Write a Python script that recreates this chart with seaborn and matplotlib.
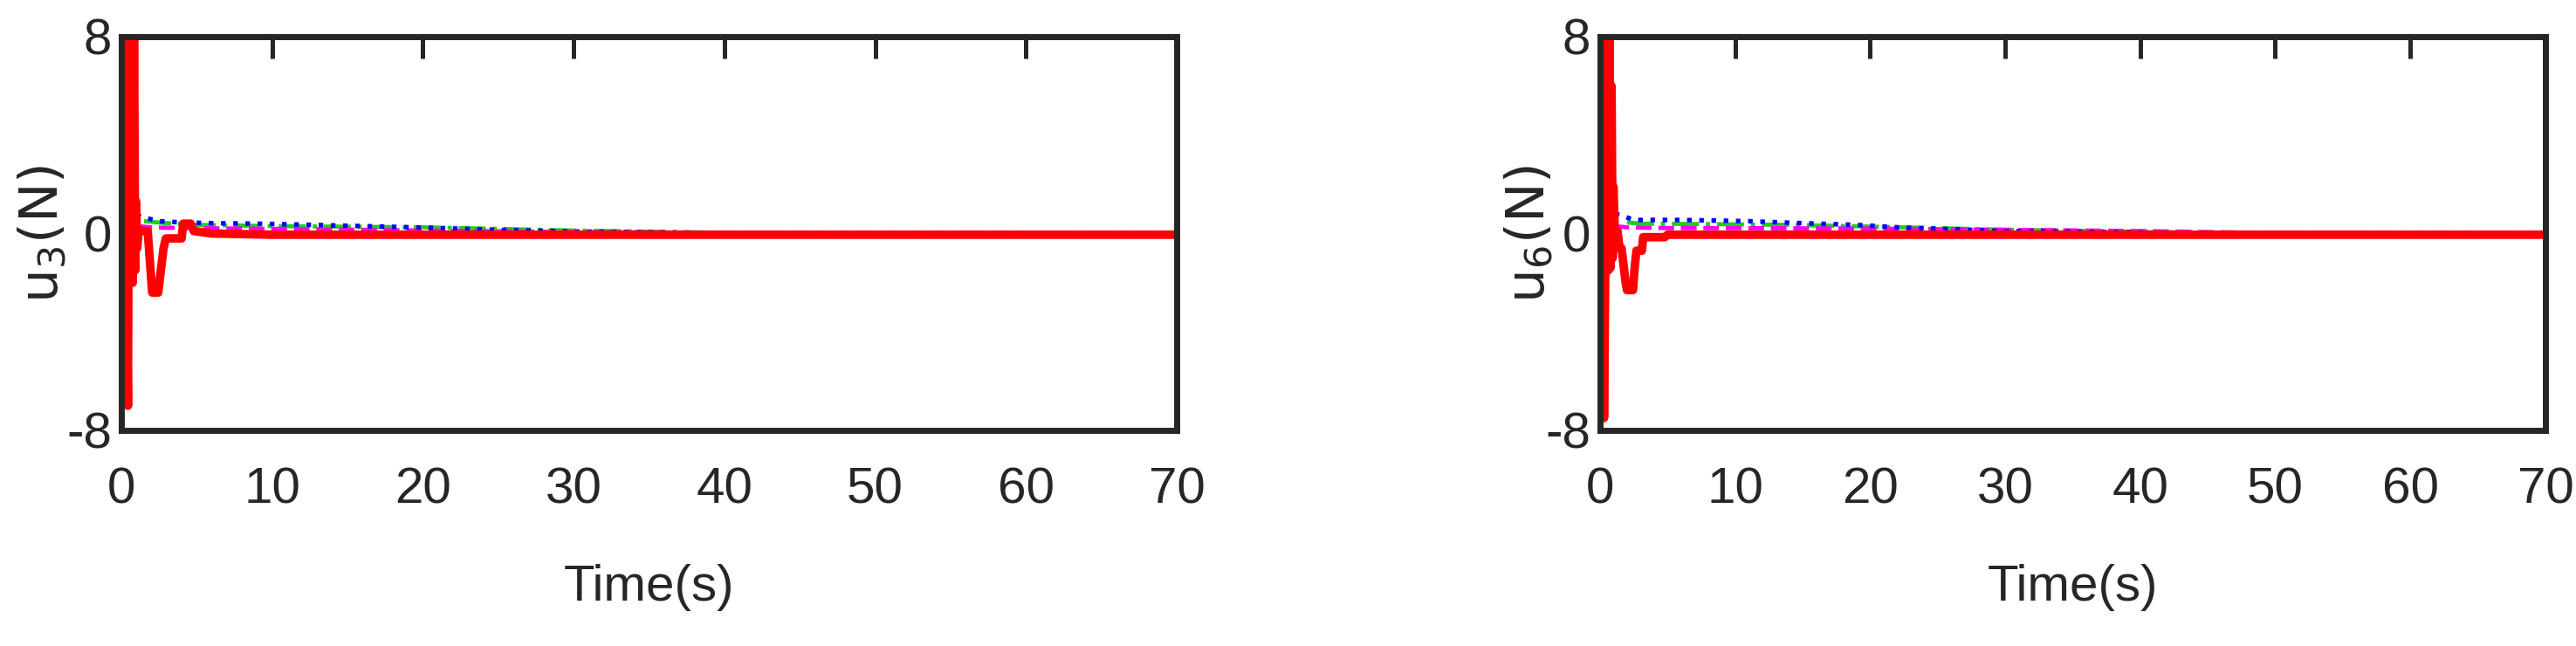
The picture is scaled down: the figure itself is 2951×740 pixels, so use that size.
import matplotlib
matplotlib.use("Agg")
import matplotlib.pyplot as plt
import seaborn as sns

# control inputs u3 / u6 (N) against time (s)
t_red_u3 = [0.00, 0.04, 0.12, 0.20, 0.28, 0.36, 0.44, 0.52, 0.60, 0.68, 0.76, 0.84, 0.92, 0.98,
            1.05, 1.15, 1.75, 1.95, 2.05, 2.45, 2.60, 2.80, 2.95, 4.00, 4.10, 4.60, 4.80, 6.0, 10.0, 30.0, 70.0]
red_u3 = [-1.5, 9.0, 9.0, -1.8, 9.0, -2.0, -7.0, 9.0, -1.5, 9.0, -2.0, 8.5, -1.5, 1.3,
          -0.6, 0.1, 0.1, -1.6, -2.4, -2.4, -1.6, -0.6, -0.2, -0.2, 0.4, 0.4, 0.1, 0.0, -0.05, -0.05, -0.05]

t_blue_u3 = [1.0, 1.5, 2.5, 4.0, 6.0, 9.0, 12.0, 16.0, 20.0, 25.0, 30.0, 40.0, 70.0]
blue_u3 = [0.75, 0.65, 0.5, 0.45, 0.42, 0.4, 0.36, 0.3, 0.24, 0.15, 0.08, 0.02, 0.0]

t_mag_u3 = [1.0, 2.0, 4.0, 8.0, 12.0, 20.0, 30.0, 50.0, 70.0]
mag_u3 = [0.3, 0.25, 0.22, 0.2, 0.18, 0.12, 0.06, 0.0, 0.0]

t_green_u3 = [1.5, 3.0, 5.0, 10.0, 20.0, 30.0, 40.0, 70.0]
green_u3 = [0.5, 0.42, 0.35, 0.3, 0.25, 0.12, 0.03, 0.0]

t_red_u6 = [0.00, 0.05, 0.15, 0.30, 0.45, 0.55, 0.62, 0.70, 0.78, 0.86, 0.94, 1.00, 1.10, 1.30,
            1.45, 1.60, 1.90, 2.00, 2.45, 2.55, 2.70, 3.10, 3.20, 4.80, 5.00, 10.0, 70.0]
red_u6 = [-3.5, 9.0, 9.0, -7.5, 2.0, 9.0, -1.5, 9.0, -1.4, 6.0, -1.0, 1.9, 0.1, 0.1,
          -0.6, -0.6, -2.0, -2.3, -2.3, -1.5, -0.7, -0.7, -0.15, -0.15, -0.05, -0.05, -0.05]

t_blue_u6 = [1.1, 1.5, 2.5, 6.0, 11.0, 15.0, 19.0, 22.0, 30.0, 45.0, 70.0]
blue_u6 = [0.8, 0.75, 0.55, 0.55, 0.5, 0.42, 0.35, 0.25, 0.1, 0.02, 0.0]

t_mag_u6 = [1.0, 2.0, 5.0, 10.0, 20.0, 30.0, 40.0, 50.0, 70.0]
mag_u6 = [0.3, 0.25, 0.22, 0.22, 0.2, 0.15, 0.1, 0.02, 0.0]

t_green_u6 = [2.0, 3.0, 8.0, 14.0, 20.0, 30.0, 45.0, 70.0]
green_u6 = [0.45, 0.4, 0.38, 0.35, 0.28, 0.15, 0.03, 0.0]

x_ticks = [0, 10, 20, 30, 40, 50, 60, 70]
y_ticks = [-8, 0, 8]

sns.set_theme(style="white")
plt.rcParams["font.family"] = ["Liberation Sans Narrow", "Liberation Sans", "DejaVu Sans"]
plt.rcParams["axes.unicode_minus"] = False
plt.rcParams["mathtext.default"] = "regular"

ink = "#262626"


def draw_panel(ax, name, t_green, green, t_mag, mag, t_blue, blue, t_red, red):
    sns.lineplot(x=t_green, y=green, ax=ax, color="#22cc22", linestyle="-.", lw=3.5,
                 estimator=None, sort=False)
    sns.lineplot(x=t_mag, y=mag, ax=ax, color="#ff00ff", linestyle="--", lw=3.5,
                 estimator=None, sort=False)
    sns.lineplot(x=t_blue, y=blue, ax=ax, color="#0000ff", linestyle=":", lw=3.8,
                 estimator=None, sort=False)
    sns.lineplot(x=t_red, y=red, ax=ax, color="#ff0000", lw=7,
                 estimator=None, sort=False)

    ax.set_xlim(0, 70)
    ax.set_ylim(-8, 8)
    ax.set_xticks(x_ticks)
    ax.set_yticks(y_ticks)
    ax.tick_params(direction="in", length=18, width=3.6, color=ink,
                   top=True, right=True, labelsize=42, labelcolor=ink)
    ax.tick_params(axis="x", pad=30)
    ax.tick_params(axis="y", pad=8)
    for s in ax.spines.values():
        s.set_linewidth(5)
        s.set_color(ink)

    ax.set_xlabel("Time(s)", fontsize=42, color=ink)
    ax.xaxis.set_label_coords(0.5, -0.34)
    ax.set_ylabel(name, fontsize=44, color=ink, family=["DejaVu Sans"], va="center")
    ax.yaxis.set_label_coords(-0.074, 0.5)


fig = plt.figure(figsize=(29.51, 7.40), dpi=100)
ax_l = fig.add_axes([0.0471, 0.3338, 0.4097, 0.6095])
ax_r = fig.add_axes([0.6211, 0.3338, 0.3670, 0.6095])

draw_panel(ax_l, "u$_3$(N)", t_green_u3, green_u3, t_mag_u3, mag_u3,
           t_blue_u3, blue_u3, t_red_u3, red_u3)
draw_panel(ax_r, "u$_6$(N)", t_green_u6, green_u6, t_mag_u6, mag_u6,
           t_blue_u6, blue_u6, t_red_u6, red_u6)

fig.savefig("out.png", dpi=100)
